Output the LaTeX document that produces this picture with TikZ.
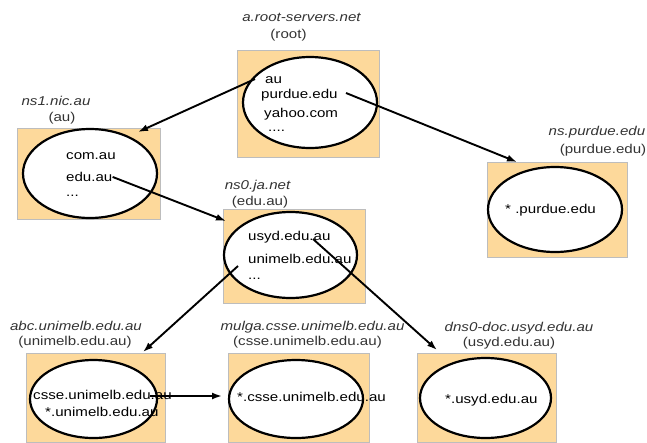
\documentclass[tikz,border=0pt]{standalone}
\usepackage{fontspec}
\setmainfont{Liberation Sans}[FakeStretch=1.18]
\usepackage{tikz}
\usetikzlibrary{shapes.geometric, arrows.meta, positioning}
\definecolor{ZoneFill}{HTML}{FDD99B}
\definecolor{BoxEdge}{HTML}{BDBDBD}
\definecolor{LabelGray}{HTML}{333333}

\tikzset{
    srvbox/.style={draw=BoxEdge, line width=0.6pt, fill=ZoneFill, inner sep=0pt},
    zone/.style={ellipse, draw=black, line width=2.2pt, fill=white, inner sep=0pt},
    entry/.style={anchor=base west, inner sep=0pt, font=\fontsize{12.8}{15}\selectfont},
    srvname/.style={anchor=base, inner sep=0pt, text=LabelGray, font=\fontsize{12.8}{15}\selectfont\itshape},
    zonename/.style={anchor=base, inner sep=0pt, text=LabelGray, font=\fontsize{12.8}{15}\selectfont},
    link/.style={-{Latex[length=10pt,width=7pt]}, line width=1.9pt}
}

\begin{document}
\begin{tikzpicture}[x=1pt, y=-1pt]
    \useasboundingbox (0,0) rectangle (647,442);

    % root server
    \node (rootBox) [srvbox, minimum width=142pt, minimum height=107pt] at (308,103.5) {};
    \node (rootZone) [zone, minimum width=134pt, minimum height=91pt] at (310,102.5) {};
    \node (rootName) [srvname] at (301.5,21.7) {a.root-servers.net};
    \node (rootTag) [zonename] at (288.5,38.5) {(root)};
    \node (rAu) [entry] at (265,83) {au};
    \node (rPurdue) [entry] at (261,98) {purdue.edu};
    \node (rYahoo) [entry] at (264,117) {yahoo.com};
    \node (rMore) [entry] at (268,131) {....};

    % ns1.nic.au
    \node (auBox) [srvbox, minimum width=143pt, minimum height=91pt] at (88.5,173.5) {};
    \node (auZone) [zone, minimum width=134pt, minimum height=89pt] at (90,173.5) {};
    \node (auName) [srvname] at (56,105) {ns1.nic.au};
    \node (auTag) [zonename] at (62,121) {(au)};
    \node (aCom) [entry] at (66,159.5) {com.au};
    \node (aEdu) [entry] at (66,181.5) {edu.au};
    \node (aMore) [entry] at (66,196) {...};

    % ns0.ja.net
    \node (eduBox) [srvbox, minimum width=142pt, minimum height=94pt] at (294,256) {};
    \node (eduZone) [zone, minimum width=133pt, minimum height=86pt] at (290.5,255) {};
    \node (eduName) [srvname] at (257.5,189.5) {ns0.ja.net};
    \node (eduTag) [zonename] at (260,205) {(edu.au)};
    \node (eUsyd) [entry] at (248,240) {usyd.edu.au};
    \node (eUnimelb) [entry] at (248,263) {unimelb.edu.au};
    \node (eMore) [entry] at (248,279) {...};

    % ns.purdue.edu
    \node (purBox) [srvbox, minimum width=140pt, minimum height=95pt] at (557,209.5) {};
    \node (purZone) [zone, minimum width=134pt, minimum height=85pt] at (555,209.5) {};
    \node (purName) [srvname] at (597,135) {ns.purdue.edu};
    \node (purTag) [zonename] at (603,153) {(purdue.edu)};
    \node (pAll) [entry] at (505,213) {* .purdue.edu};

    % abc.unimelb.edu.au
    \node (melbBox) [srvbox, minimum width=139pt, minimum height=89pt] at (95.5,397.5) {};
    \node (melbZone) [zone, minimum width=127pt, minimum height=78pt] at (93.5,399) {};
    \node (melbName) [srvname] at (76,330) {abc.unimelb.edu.au};
    \node (melbTag) [zonename] at (75,345) {(unimelb.edu.au)};
    \node (mCsse) [entry] at (33,399.5) {csse.unimelb.edu.au};
    \node (mAll) [entry] at (45,416.5) {*.unimelb.edu.au};

    % mulga.csse.unimelb.edu.au
    \node (csseBox) [srvbox, minimum width=141pt, minimum height=89pt] at (298.5,397.5) {};
    \node (csseZone) [zone, minimum width=134pt, minimum height=78pt] at (296,399) {};
    \node (csseName) [srvname] at (312.5,330) {mulga.csse.unimelb.edu.au};
    \node (csseTag) [zonename] at (307.5,345) {(csse.unimelb.edu.au)};
    \node (cAll) [entry] at (237,401.5) {*.csse.unimelb.edu.au};

    % dns0-doc.usyd.edu.au
    \node (usydBox) [srvbox, minimum width=139pt, minimum height=89pt] at (486.5,397.5) {};
    \node (usydZone) [zone, minimum width=131pt, minimum height=80pt] at (485.5,398) {};
    \node (usydName) [srvname] at (519,331.5) {dns0-doc.usyd.edu.au};
    \node (usydTag) [zonename] at (509,346) {(usyd.edu.au)};
    \node (uAll) [entry] at (445,403) {*.usyd.edu.au};

    % delegation ends
    \coordinate (auFrom) at (255,79);
    \coordinate (auTo) at (138,132);
    \coordinate (purFrom) at (346,93);
    \coordinate (purTo) at (517,162);
    \coordinate (eduTo) at (226,221);
    \coordinate (melbFrom) at (238,266);
    \coordinate (melbTo) at (143,352);
    \coordinate (usydFrom) at (313,239);
    \coordinate (usydTo) at (437,350);
    \coordinate (csseFrom) at (150,396);
    \coordinate (csseTo) at (222,396);

    \draw[link] (auFrom) -- (auTo);
    \draw[link] (purFrom) -- (purTo);
    \draw[link] (aEdu.east) -- (eduTo);
    \draw[link] (melbFrom) -- (melbTo);
    \draw[link] (usydFrom) -- (usydTo);
    \draw[link] (csseFrom) -- (csseTo);
\end{tikzpicture}
\end{document}
